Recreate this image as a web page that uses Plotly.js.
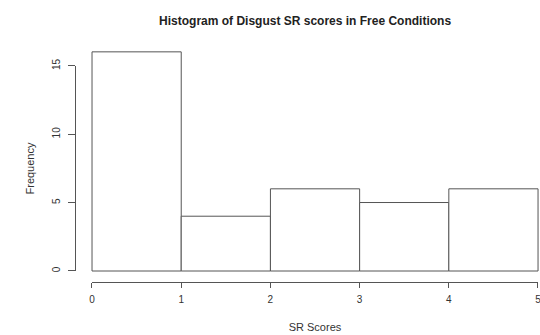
<!DOCTYPE html>
<html>
<head>
<meta charset="utf-8">
<script src="https://cdn.plot.ly/plotly-3.0.1.min.js"></script>
<style>html,body{margin:0;padding:0;background:#fff;}#chart{width:540px;height:335px;}</style>
</head>
<body>
<div id="chart"></div>
<script>
const binEdges = [0, 1, 2, 3, 4, 5];
const counts = [16, 4, 6, 5, 6];
const xTicks = [0, 1, 2, 3, 4, 5];
const yTicks = [0, 5, 10, 15];

const mids = counts.map((c, i) => (binEdges[i] + binEdges[i + 1]) / 2);
const widths = counts.map((c, i) => binEdges[i + 1] - binEdges[i]);

const lineCol = '#555';
const textCol = '#333';
const font = 'Liberation Sans, Arial, sans-serif';

const traces = [
  {
    type: 'bar', x: mids, y: counts, width: widths,
    marker: {color: '#ffffff', line: {color: lineCol, width: 1}},
    xaxis: 'x', yaxis: 'y', hoverinfo: 'skip', showlegend: false
  },
  {
    type: 'scatter', mode: 'markers', x: [], y: [],
    xaxis: 'x2', yaxis: 'y2', showlegend: false
  }
];

const layout = {
  width: 540, height: 335,
  paper_bgcolor: '#fff', plot_bgcolor: 'rgba(0,0,0,0)',
  margin: {l: 74, r: 0, t: 45, b: 45},
  showlegend: false,
  bargap: 0,
  title: {
    text: '<b>Histogram of Disgust SR scores in Free Conditions</b>',
    font: {family: font, size: 12, color: '#222'},
    xref: 'container', x: 0.565, xanchor: 'center',
    yref: 'container', y: 0.938, yanchor: 'middle'
  },
  xaxis: {range: [-0.202, 5.022], visible: false, fixedrange: true},
  yaxis: {range: [-1.387, 16.5], visible: false, fixedrange: true},
  xaxis2: {
    domain: [0.0386, 0.9957], range: [-0.0001, 5.0001], anchor: 'free', position: 0.0327,
    showline: true, linecolor: lineCol, linewidth: 1,
    ticks: 'outside', ticklen: 5, tickcolor: lineCol, tickwidth: 1,
    tickvals: xTicks, ticktext: xTicks.map(String),
    ticklabeloverflow: 'allow', ticklabelstandoff: 3,
    tickfont: {family: font, size: 10, color: textCol},
    showgrid: false, zeroline: false,
    title: {text: 'SR Scores', font: {family: font, size: 11, color: textCol}, standoff: 19}
  },
  yaxis2: {
    domain: [0.0776, 0.9143], range: [-0.0001, 15.0001], anchor: 'free', position: 0.002,
    showline: true, linecolor: lineCol, linewidth: 1,
    ticks: 'outside', ticklen: 7, tickcolor: lineCol, tickwidth: 1,
    tickvals: yTicks, ticktext: yTicks.map(String), tickangle: -90,
    ticklabeloverflow: 'allow', ticklabelstandoff: 4,
    tickfont: {family: font, size: 10, color: textCol},
    showgrid: false, zeroline: false,
    title: {text: 'Frequency', font: {family: font, size: 11, color: textCol}, standoff: 13}
  }
};

Plotly.newPlot('chart', traces, layout, {displayModeBar: false, staticPlot: true});
</script>
</body>
</html>
